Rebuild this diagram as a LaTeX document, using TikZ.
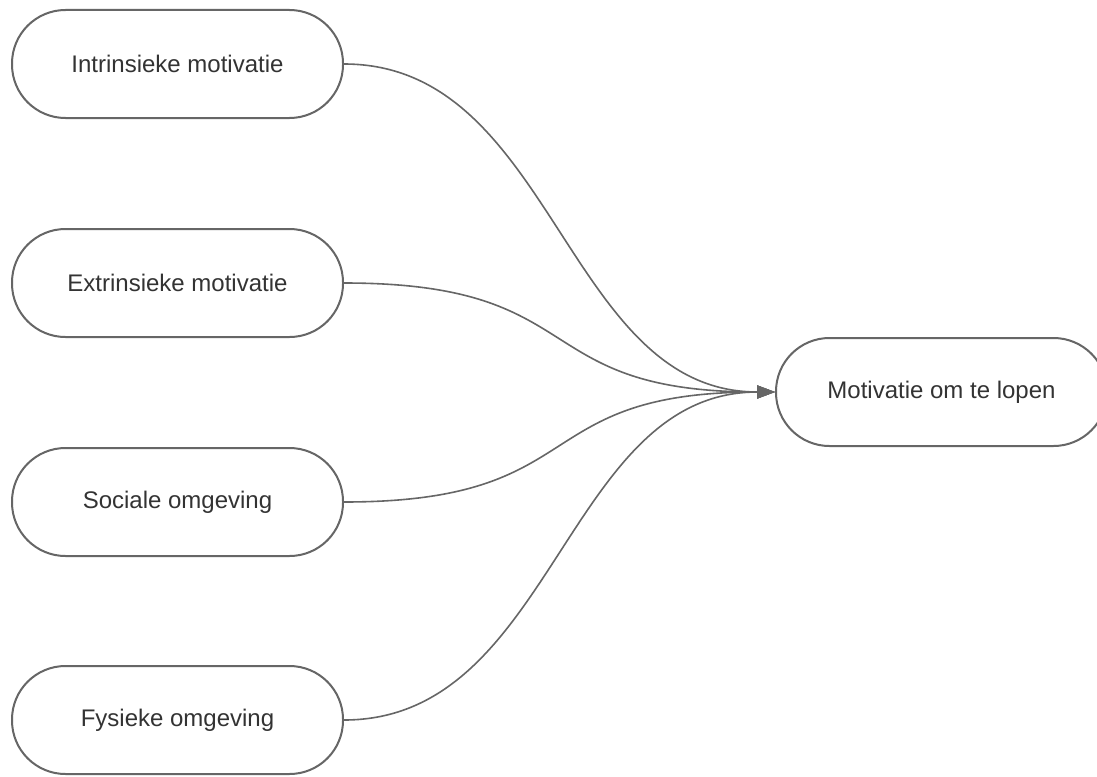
\documentclass[tikz,border=0pt]{standalone}
\usepackage{fontspec}
\setmainfont{Liberation Sans}
\usetikzlibrary{arrows.meta}
\definecolor{edgegray}{HTML}{666666}
\definecolor{textgray}{HTML}{333333}
\begin{document}
\begin{tikzpicture}[x=1pt, y=-1pt,
    factor/.style={draw=edgegray, line width=2pt, fill=white, rounded corners=53.5pt,
        minimum width=331pt, minimum height=108pt, text=textgray,
        font=\fontsize{24}{28}\selectfont},
    link/.style={draw=edgegray, line width=1.6pt, -{Triangle[length=18pt, width=13pt]}}]
    % Factors feeding into motivation to walk
    \useasboundingbox[fill=white] (0,0) rectangle (1097,776);

    \node[factor] (intr) at (177.5, 64)  {Intrinsieke motivatie};
    \node[factor] (extr) at (177.5, 283) {Extrinsieke motivatie};
    \node[factor] (soc)  at (177.5, 502) {Sociale omgeving};
    \node[factor] (fys)  at (177.5, 720) {Fysieke omgeving};

    \node[factor] (goal) at (941.5, 392) {Motivatie om te lopen};

    \foreach \src/\d in {intr/210, extr/250, soc/250, fys/210}
        \draw[link] (\src.east) .. controls +(\d,0) and +(-\d,0) .. (goal.west);
\end{tikzpicture}
\end{document}
